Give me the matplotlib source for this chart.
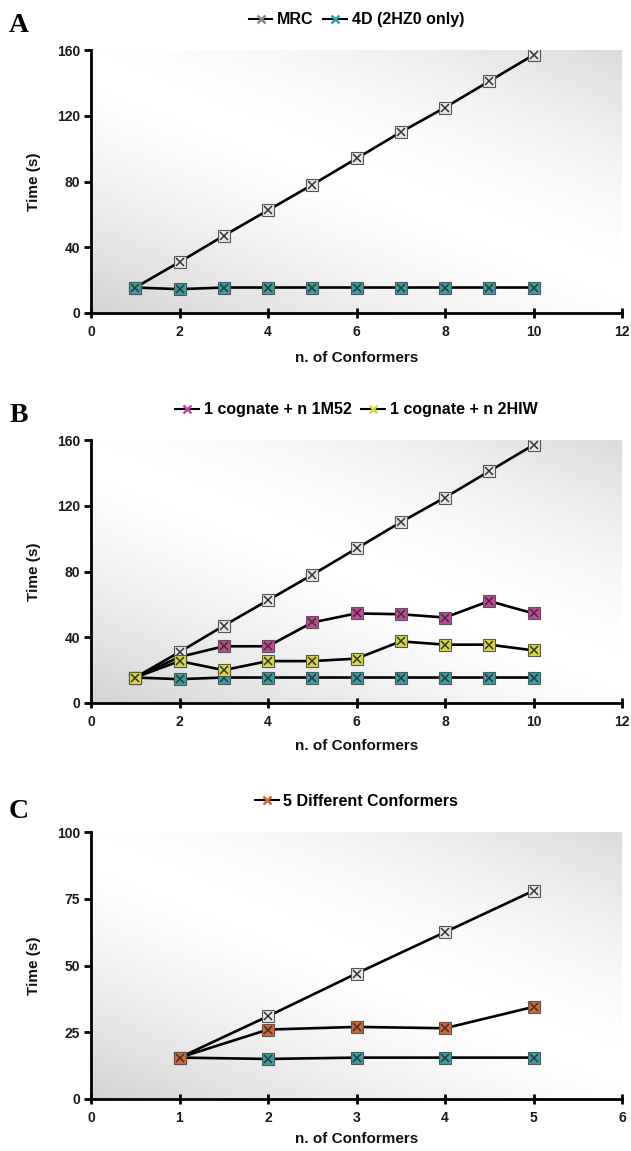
import numpy as np
import matplotlib
matplotlib.use("Agg")
import matplotlib.pyplot as plt
from matplotlib.lines import Line2D

# ---------------- data ----------------
conformers_10 = [1, 2, 3, 4, 5, 6, 7, 8, 9, 10]
mrc_10 = [15.5, 31, 47, 62.5, 78, 94, 110, 125, 141, 157]
only4d_10 = [15.5, 14.5, 15.5, 15.5, 15.5, 15.5, 15.5, 15.5, 15.5, 15.5]
cognate_1m52 = [15.5, 28, 34.5, 34.5, 49, 54.5, 54, 52, 62, 54.5]
cognate_2hiw = [15.5, 25.5, 20, 25.5, 25.5, 27, 37.5, 35.5, 35.5, 32]

conformers_5 = [1, 2, 3, 4, 5]
mrc_5 = [15.5, 31, 47, 62.5, 78]
only4d_5 = [15.5, 15, 15.5, 15.5, 15.5]
different_5 = [15.5, 26, 27, 26.5, 34.5]

xticks_ab = [0, 2, 4, 6, 8, 10, 12]
yticks_ab = [0, 40, 80, 120, 160]
xticks_c = [0, 1, 2, 3, 4, 5, 6]
yticks_c = [0, 25, 50, 75, 100]

# ---------------- style ----------------
C_MRC = "#e6e6e6"
C_4D = "#2fa3a6"
C_1M52 = "#c9459a"
C_2HIW = "#d9d93a"
C_DIFF = "#d8662e"
SANS = ["Liberation Sans", "DejaVu Sans"]
SERIF = ["Liberation Serif", "DejaVu Serif"]

W, H = 631, 1151
fig = plt.figure(figsize=(W / 100, H / 100), dpi=100)
fig.patch.set_facecolor("white")


def axes_px(left, top, right, bottom):
    return fig.add_axes([left / W, 1 - bottom / H, (right - left) / W, (bottom - top) / H])


def background(ax):
    n = 200
    xx, yy = np.meshgrid(np.linspace(0, 1, n), np.linspace(0, 1, n))
    t = (xx * 0.9 + yy * 1.1) / 2.0
    g = np.where(t < 0.5, 1 - 0.17 * ((0.5 - t) / 0.5) ** 1.3,
                 1 - 0.14 * ((t - 0.5) / 0.5) ** 1.6)
    ax.imshow(g, extent=(0, 1, 0, 1), transform=ax.transAxes, origin="lower",
              cmap="gray", vmin=0, vmax=1, aspect="auto", zorder=0,
              interpolation="bilinear")


def series(ax, x, y, color, z):
    ax.plot(x, y, color="black", lw=1.9, zorder=z, solid_joinstyle="round")
    ax.plot(x, y, linestyle="none", marker="s", markersize=8,
            markerfacecolor=color, markeredgecolor="#555555", markeredgewidth=0.8,
            zorder=z + 0.1)
    ax.plot(x, y, linestyle="none", marker="x", markersize=5.5,
            markeredgecolor="#333333", markeredgewidth=1.1, zorder=z + 0.2)


def style(ax, xt, yt, xmax, ymax, xpad):
    ax.set_autoscale_on(False)
    ax.set_xlim(0, xmax)
    ax.set_ylim(0, ymax)
    ax.set_xticks(xt)
    ax.set_yticks(yt)
    for s in ("top", "right"):
        ax.spines[s].set_visible(False)
    for s in ("left", "bottom"):
        ax.spines[s].set_linewidth(2.0)
        ax.spines[s].set_color("black")
        ax.spines[s].set_zorder(5)
    ax.tick_params(axis="x", direction="inout", length=7, width=2, pad=5,
                   labelsize=10)
    ax.tick_params(axis="y", direction="out", length=5, width=2, pad=3,
                   labelsize=10)
    for lab in ax.get_xticklabels() + ax.get_yticklabels():
        lab.set_fontfamily(SANS)
        lab.set_fontweight("bold")
        lab.set_color("#1a1a1a")
    ax.set_xlabel("n. of Conformers", fontsize=11, fontweight="bold",
                  family=SANS, labelpad=xpad, color="#111111")
    ax.set_ylabel("Time (s)", fontsize=11, fontweight="bold", family=SANS,
                  labelpad=11, color="#111111")


def legend(ax, labels, colors):
    handles = [Line2D([], [], color="black", lw=1.5, marker="x", markersize=6,
                      markeredgecolor=(c if c != C_MRC else "#888888"),
                      markeredgewidth=1.8) for c in colors]
    ax.legend(handles, labels, loc="center", bbox_to_anchor=(0.5, 1.115),
              ncol=len(labels), frameon=False, handlelength=1.5,
              handletextpad=0.3, columnspacing=0.6,
              prop={"family": SANS, "weight": "bold", "size": 11.5})


# ---------------- panel A ----------------
axA = axes_px(91, 50, 622, 313)
background(axA)
series(axA, conformers_10, mrc_10, C_MRC, 3)
series(axA, conformers_10, only4d_10, C_4D, 4)
style(axA, xticks_ab, yticks_ab, 12, 160, 9)
legend(axA, ["MRC", "4D (2HZ0 only)"], [C_MRC, C_4D])

# ---------------- panel B ----------------
axB = axes_px(91, 440, 622, 703)
background(axB)
series(axB, conformers_10, only4d_10, C_4D, 3)
series(axB, conformers_10, cognate_1m52, C_1M52, 4)
series(axB, conformers_10, mrc_10, C_MRC, 5)
series(axB, conformers_10, cognate_2hiw, C_2HIW, 6)
style(axB, xticks_ab, yticks_ab, 12, 160, 7)
legend(axB, ["1 cognate + n 1M52", "1 cognate + n 2HIW"], [C_1M52, C_2HIW])

# ---------------- panel C ----------------
axC = axes_px(91, 832, 622, 1099)
background(axC)
series(axC, conformers_5, only4d_5, C_4D, 3)
series(axC, conformers_5, mrc_5, C_MRC, 4)
series(axC, conformers_5, different_5, C_DIFF, 5)
style(axC, xticks_c, yticks_c, 6, 100, 5)
legend(axC, ["5 Different Conformers"], [C_DIFF])

# panel letters
for letter, y in (("A", 26), ("B", 416), ("C", 812)):
    fig.text(19 / W, 1 - y / H, letter, family=SERIF, fontweight="bold",
             fontsize=20, ha="center", va="center")

fig.savefig("out.png", dpi=100)
